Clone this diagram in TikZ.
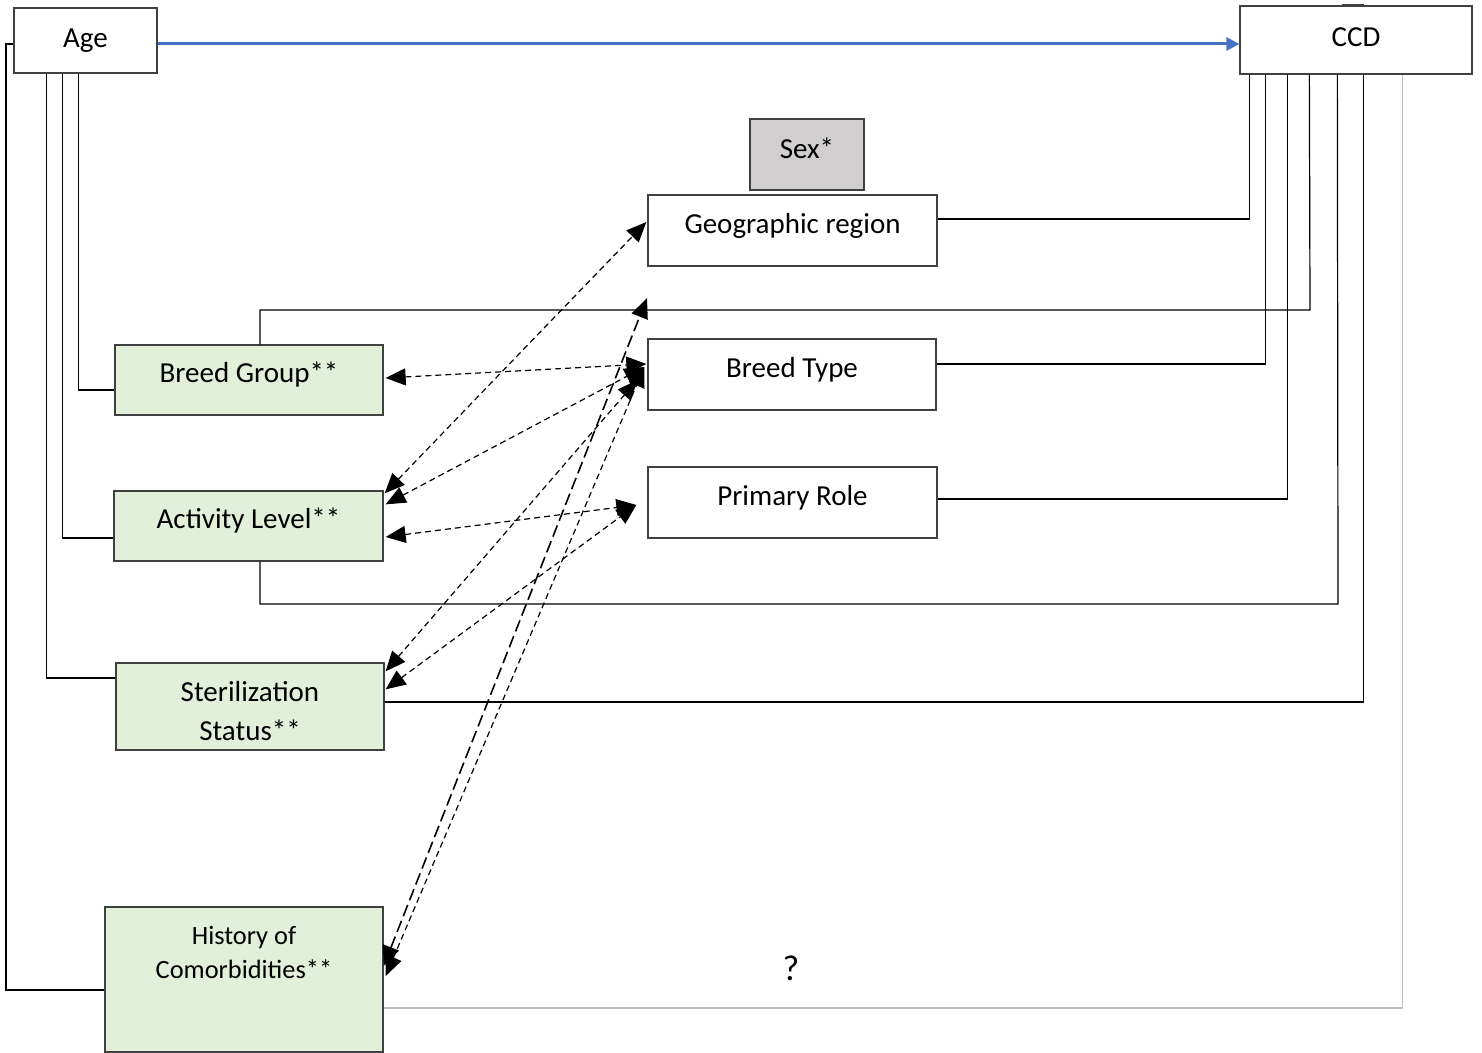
\documentclass[tikz,border=0pt]{standalone}
\usepackage{fontspec}
\setmainfont{Carlito}
\usetikzlibrary{arrows.meta}
\definecolor{boxline}{HTML}{404040}
\definecolor{greenfill}{HTML}{E2EFD9}
\definecolor{sexfill}{HTML}{D0CECE}
\definecolor{linkblue}{HTML}{4472C4}
\definecolor{greyline}{HTML}{BFBFBF}
\tikzset{
  box/.style={draw=boxline, line width=0.65pt, fill=white, inner sep=0pt},
  greenbox/.style={box, fill=greenfill},
  greybox/.style={box, fill=sexfill},
  txt/.style={font=\fontsize{14.5}{19.5}\selectfont, align=center},
  smalltxt/.style={font=\fontsize{13.2}{17}\selectfont, align=center},
  conn/.style={draw=black, line width=0.6pt},
  assoc/.style={draw=black, line width=0.6pt, dash pattern=on 3pt off 2pt,
    {Triangle[length=10pt,width=8.5pt]}-{Triangle[length=10pt,width=8.5pt]}},
  longassoc/.style={draw=black, line width=0.8pt, dash pattern=on 6pt off 2.5pt,
    {Triangle[length=10pt,width=8.5pt]}-{Triangle[length=10pt,width=8.5pt]}},
}
\begin{document}
\begin{tikzpicture}[x=0.5pt,y=-0.5pt]
\useasboundingbox (0,0) rectangle (1482,1053);

% boxes
\node[box, minimum width=71.5pt, minimum height=32.5pt,
  label={[txt, yshift=0pt]center:Age}] (age) at (85.5,40.5) {};
\node[box, minimum width=116pt, minimum height=34pt,
  label={[txt, yshift=1.5pt]center:CCD}] (ccd) at (1356,40) {};
\node[greybox, minimum width=57pt, minimum height=35.5pt,
  label={[txt, yshift=3pt]center:Sex*}] (sex) at (807,154.5) {};
\node[box, minimum width=144.5pt, minimum height=35.5pt,
  label={[txt, yshift=2.5pt]center:Geographic region}] (geo) at (792.5,230.5) {};
\node[box, minimum width=144pt, minimum height=35.5pt,
  label={[txt, yshift=2.5pt]center:Breed Type}] (bt) at (792,374.5) {};
\node[box, minimum width=144.5pt, minimum height=35.5pt,
  label={[txt, yshift=2.5pt]center:Primary Role}] (pr) at (792.5,502.5) {};
\node[greenbox, minimum width=134pt, minimum height=35pt,
  label={[txt, yshift=2.5pt]center:Breed Group**}] (bg) at (249,380) {};
\node[greenbox, minimum width=134.5pt, minimum height=35pt,
  label={[txt, yshift=2.5pt]center:Activity Level**}] (al) at (248.5,526) {};
\node[greenbox, minimum width=134pt, minimum height=43.5pt,
  label={[txt, yshift=-2.5pt]center:Sterilization\\Status**}] (ss) at (250,706.5) {};
\node[greenbox, minimum width=139pt, minimum height=72.5pt,
  label={[smalltxt, yshift=13.5pt]center:History of\\Comorbidities**}] (hc) at (244,979.5) {};

\node[font=\fontsize{18}{20}\selectfont] (q) at (791,968) {?};

% short mark above CCD
\draw[boxline, line width=0.5pt] ([shift={(-14,-1)}]ccd.north) -- ([shift={(8,-1)}]ccd.north);

% Age to CCD
\draw[linkblue, line width=1.5pt, -{Triangle[length=6.5pt,width=6.5pt]}]
  ([shift={(0,3.5)}]age.east) -- ([shift={(0,4)}]ccd.west);

% Age to covariates
\draw[conn] ([shift={(0,3.5)}]age.west) -- (6,44) |- ([shift={(0,10.5)}]hc.west);
\draw[conn] ([shift={(33,0)}]age.south west) |- ([shift={(0,-28.5)}]ss.west);
\draw[conn] ([shift={(49,0)}]age.south west) |- ([shift={(0,12)}]al.west);
\draw[conn] ([shift={(65,0)}]age.south west) |- ([shift={(0,10)}]bg.west);

% covariates to CCD
\draw[conn] ([shift={(10,0)}]ccd.south west) |- ([shift={(0,-11.5)}]geo.east);
\draw[conn] ([shift={(26,0)}]ccd.south west) |- ([shift={(0,-10.5)}]bt.east);
\draw[conn] ([shift={(48,0)}]ccd.south west) |- ([shift={(0,-3.5)}]pr.east);
\coordinate (bgturn) at (1310,310);
\draw[conn] ([shift={(70,0)}]ccd.south west) -- (bgturn) -| ([shift={(11,0)}]bg.north);
\coordinate (alturn) at (1338,604);
\draw[conn] ([shift={(98,0)}]ccd.south west) -- (alturn) -| ([shift={(11.5,0)}]al.south);
\draw[conn] ([shift={(124,0)}]ccd.south west) |- ([shift={(0,-4.5)}]ss.east);
\draw[conn, draw=greyline] ([shift={(163,0)}]ccd.south west) |- ([shift={(0,28.5)}]hc.east);

% associations
\coordinate (sexlink) at (647,298);
\draw[assoc] ([shift={(1,3)}]al.north east) -- ([shift={(-1,-8.5)}]geo.west);
\draw[assoc] ([shift={(2,-2)}]bg.east) -- ([shift={(-1,-10.5)}]bt.west);
\draw[assoc] ([shift={(2,14)}]al.north east) -- ([shift={(-3,-7.5)}]bt.west);
\draw[assoc] ([shift={(2,11)}]al.east) -- ([shift={(-11,2.5)}]pr.west);
\draw[assoc] ([shift={(1,9)}]ss.north east) -- ([shift={(-10,5.5)}]bt.west);
\draw[assoc] ([shift={(1,27)}]ss.north east) -- ([shift={(-11,2.5)}]pr.west);
\draw[longassoc] ([shift={(0,-13.5)}]hc.east) -- (sexlink);
\draw[assoc] ([shift={(2,-3.5)}]hc.east) -- ([shift={(-3,-7.5)}]bt.west);
\end{tikzpicture}
\end{document}
